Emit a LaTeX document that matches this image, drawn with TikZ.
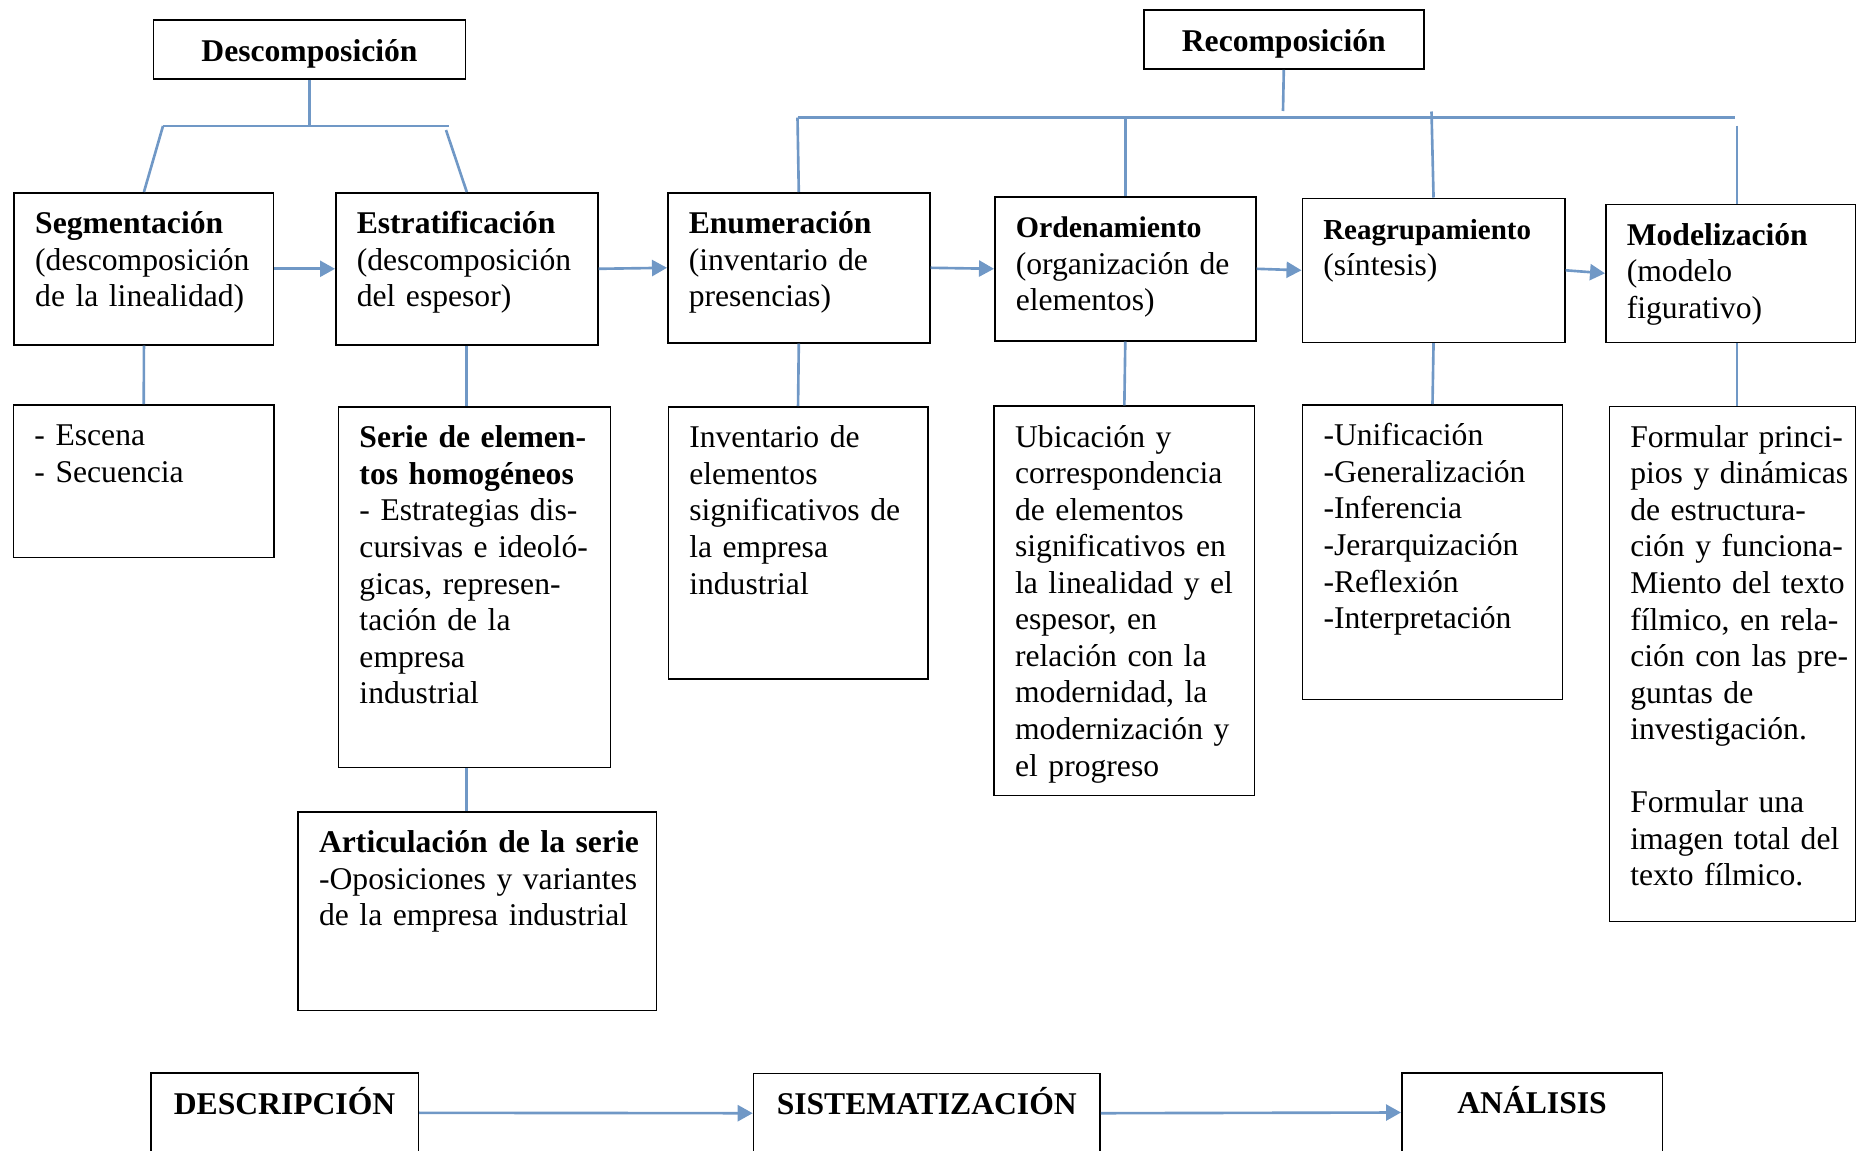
\documentclass[tikz,border=0pt]{standalone}
\usepackage{fontspec}
\setmainfont{Liberation Serif}
\usetikzlibrary{arrows.meta}
\definecolor{azul}{RGB}{112,152,198}
\tikzset{
  marco/.style={draw, line width=0.9pt, anchor=north west, inner xsep=0.42cm, inner ysep=0pt,
    text height=0.82cm},
  caja/.style={marco, align=left, font=\fontsize{18pt}{20.8pt}\selectfont,
    execute at begin node={\rightskip=-0.4cm plus 1fil\hyphenpenalty=10000\relax}},
  titulo/.style={marco, align=center, font=\fontsize{18pt}{20.8pt}\selectfont\bfseries},
  linea/.style={draw=azul, line width=1.5pt},
  flecha/.style={linea, -{Triangle[length=0.3cm, width=0.32cm]}},
}

\begin{document}
\begin{tikzpicture}
  \useasboundingbox (0,0) rectangle (37.12,-23);
  \clip (0,0) rectangle (37.12,-23);

  \node[titulo, text width=5.4cm, text depth=0.36cm] (desc) at (3.054,-0.386) {Descomposición};
  \node[titulo, text width=4.76cm, text depth=0.36cm] (recomp) at (22.86,-0.186) {Recomposición};

  \node[caja, text width=4.35cm, text depth=2.22cm] (seg) at (0.268,-3.84)
    {\textbf{Segmentación}\\(descomposición\\de la linealidad)};
  \node[caja, text width=4.40cm, text depth=2.22cm] (estr) at (6.70,-3.84)
    {\textbf{Estratificación}\\(descomposición\\del espesor)};
  \node[caja, text width=4.40cm, text depth=2.18cm] (enum) at (13.34,-3.84)
    {\textbf{Enumeración}\\(inventario de\\presencias)};
  \node[caja, text width=4.38cm, text depth=2.06cm] (ord) at (19.88,-3.92)
    {\textbf{\fontsize{17pt}{20.8pt}\selectfont Ordenamiento}\\(organización de\\elementos)};
  \node[caja, text width=4.41cm, text depth=2.06cm] (reag) at (26.03,-3.95)
    {\textbf{\fontsize{16.5pt}{20.8pt}\selectfont Reagrupamiento}\\(síntesis)};
  \node[caja, text width=4.16cm, text depth=1.94cm] (mod) at (32.10,-4.07)
    {\textbf{Modelización}\\(modelo\\figurativo)};

  \node[caja, text width=4.37cm, text depth=2.23cm] (escena) at (0.254,-8.08)
    {- Escena\\- Secuencia};
  \node[caja, text width=4.60cm, text depth=6.39cm] (serie) at (6.754,-8.12)
    {\textbf{Serie de elemen-}\\\textbf{tos homogéneos}\\- Estrategias dis-\\cursivas e ideoló-\\gicas, represen-\\tación de la\\empresa\\industrial};
  \node[caja, text width=6.33cm, text depth=3.15cm] (artic) at (5.946,-16.22)
    {\textbf{Articulación de la serie}\\-Oposiciones y variantes\\de la empresa industrial};
  \node[caja, text width=4.35cm, text depth=4.62cm] (invent) at (13.35,-8.12)
    {Inventario de\\elementos\\significativos de\\la empresa\\industrial};
  \node[caja, text width=4.37cm, text depth=6.97cm] (ubic) at (19.866,-8.106)
    {Ubicación y\\correspondencia\\de elementos\\significativos en\\la linealidad y el\\espesor, en\\relación con la\\modernidad, la\\modernización y\\el progreso};
  \node[caja, text width=4.36cm, text depth=5.07cm] (unif) at (26.034,-8.08)
    {-Unificación\\-Generalización\\-Inferencia\\-Jerarquización\\-Reflexión\\-Interpretación};
  \node[caja, text width=4.09cm, text depth=9.48cm] (form) at (32.17,-8.11)
    {Formular princi-\\pios y dinámicas\\de estructura-\\ción y funciona-\\Miento del texto\\fílmico, en rela-\\ción con las pre-\\guntas de\\investigación.\\[0.73cm]Formular una\\imagen total del\\texto fílmico.};

  \node[titulo, text width=4.51cm, text depth=1.5cm] (descrip) at (3.0,-21.446) {DESCRIPCIÓN};
  \node[titulo, text width=6.09cm, text depth=1.5cm] (sistem) at (15.054,-21.454) {SISTEMATIZACIÓN};
  \node[titulo, text width=4.37cm, text depth=1.5cm] (analisis) at (28.02,-21.44) {ANÁLISIS};

  \coordinate (dbarI) at (3.26,-2.52);
  \coordinate (dbarD) at (8.98,-2.52);
  \coordinate (dpie) at (8.92,-2.6);
  \draw[linea] (desc.south) -- (desc.south |- dbarI);
  \draw[linea] (dbarI) -- (dbarD);
  \draw[linea] (dbarI) -- (seg.north);
  \draw[linea] (dpie) -- (estr.north);

  \coordinate (rcol) at (25.66,-2.22);
  \coordinate (rbarI) at (15.95,-2.35);
  \coordinate (rbarD) at (34.69,-2.35);
  \coordinate (rreag) at (28.63,-2.23);
  \coordinate (rmod) at (34.74,-2.51);
  \draw[linea] (recomp.south) -- (rcol);
  \draw[linea] (rbarI) -- (rbarD);
  \draw[linea] (rbarI) -- (enum.north);
  \draw[linea] (ord.north |- rbarI) -- (ord.north);
  \draw[linea] (rreag) -- (reag.north);
  \draw[linea] (rmod) -- (rmod |- mod.north);

  \draw[linea] (seg.south) -- (escena.north);
  \draw[linea] (estr.south) -- (estr.south |- serie.north);
  \draw[linea] (estr.south |- serie.south) -- (estr.south |- artic.north);
  \draw[linea] (enum.south) -- (invent.north);
  \draw[linea] (ord.south) -- (ubic.north);
  \draw[linea] (reag.south) -- (unif.north);
  \draw[linea] (rmod |- mod.south) -- (rmod |- form.north);

  \draw[flecha] (seg.east) -- (estr.west);
  \draw[flecha] (estr.east) -- (enum.west);
  \draw[flecha] (enum.east) -- (ord.west);
  \draw[flecha] (ord.east) -- (reag.west);
  \draw[flecha] (reag.east) -- (mod.west);

  \draw[flecha] ([yshift=-0.81cm]descrip.north east) -- ([yshift=-0.81cm]sistem.north west);
  \draw[flecha] ([yshift=-0.81cm]sistem.north east) -- ([yshift=-0.81cm]analisis.north west);
\end{tikzpicture}
\end{document}
